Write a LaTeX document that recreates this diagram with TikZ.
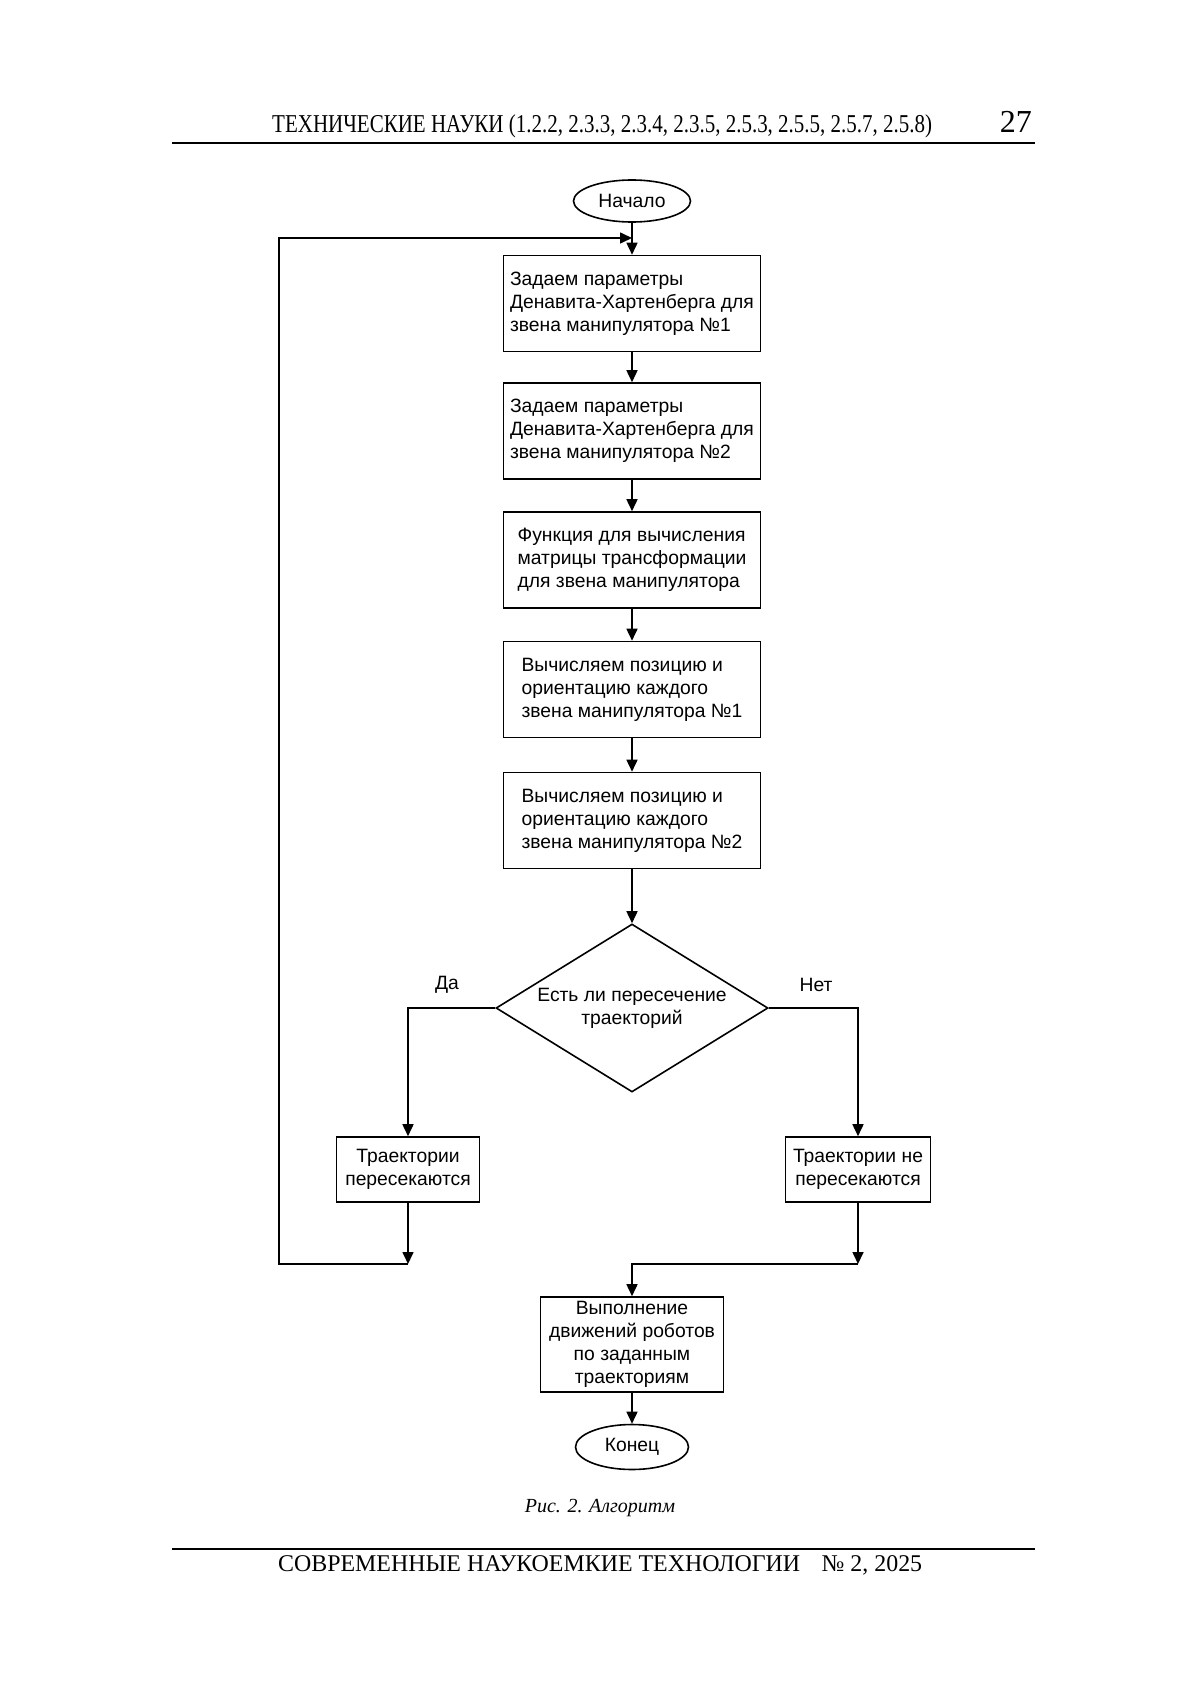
\documentclass[tikz,border=0pt]{standalone}
\usepackage{fontspec}
\usepackage{graphicx}
\setmainfont{Liberation Serif}
\setsansfont{Liberation Sans}
\usetikzlibrary{shapes.geometric,arrows.meta}
\begin{document}
\begin{tikzpicture}[x=1pt,y=-1pt,
  every node/.style={font=\sffamily\fontsize{19.3}{23}\selectfont, inner sep=0pt},
  lw/.style={line width=1.6pt},
  proc/.style={draw, lw, minimum width=257pt, minimum height=96pt, align=left},
  small/.style={draw, lw, minimum height=65pt, align=center},
  term/.style={draw, lw, ellipse},
  decis/.style={draw, lw, diamond, aspect=1.62, minimum width=272pt, minimum height=168pt, align=center},
  conn/.style={lw, -{Triangle[length=12pt,width=11pt]}},
  serifhead/.style={font=\rmfamily\fontsize{25.7}{30}\selectfont}]
\useasboundingbox (0,0) rectangle (1200,1697);
\fill[white] (0,0) rectangle (1200,1697);

% header
\node[serifhead, anchor=base west] (hdr) at (272,132)
  {\resizebox{660pt}{\height}{ТЕХНИЧЕСКИЕ НАУКИ (1.2.2, 2.3.3, 2.3.4, 2.3.5, 2.5.3, 2.5.5, 2.5.7, 2.5.8)}};
\node[font=\rmfamily\fontsize{32}{36}\selectfont, anchor=base east] (pg) at (1032,132) {27};
\draw[line width=2.7pt] (172,143) -- (1035,143);

% flowchart nodes
\node[term, minimum width=117pt, minimum height=42pt] (start) at (632,201) {Начало};
\node[proc] (b1) at (632,303.5) {Задаем параметры\\Денавита-Хартенберга для\\звена манипулятора №1};
\node[proc] (b2) at (632,431) {Задаем параметры\\Денавита-Хартенберга для\\звена манипулятора №2};
\node[proc] (b3) at (632,560) {Функция для вычисления\\матрицы трансформации\\для звена манипулятора};
\node[proc] (b4) at (632,689.5) {Вычисляем позицию и\\ориентацию каждого\\звена манипулятора №1};
\node[proc] (b5) at (632,820.5) {Вычисляем позицию и\\ориентацию каждого\\звена манипулятора №2};
\node[decis] (d) at (632,1008) {Есть ли пересечение\\траекторий};
\node[small, minimum width=143pt] (yes) at (408,1169.5) {Траектории\\пересекаются};
\node[small, minimum width=145pt] (no) at (858,1169.5) {Траектории не\\пересекаются};
\node[draw, lw, minimum width=183pt, minimum height=95pt, align=center] (fin) at (632,1344.5)
  {Выполнение\\движений роботов\\по заданным\\траекториям};
\node[term, minimum width=113pt, minimum height=45pt] (end) at (632,1447) {Конец};

\node (da) at (447,985) {Да};
\node (net) at (816,985) {Нет};

% junction coordinates
\coordinate (lj) at (408,1264);
\coordinate (rj) at (858,1264);
\coordinate (lc) at (279,1264);
\coordinate (lt) at (279,238);
\coordinate (tj) at (632,238);

% connectors
\draw[conn] (start) -- (b1);
\draw[conn] (b1) -- (b2);
\draw[conn] (b2) -- (b3);
\draw[conn] (b3) -- (b4);
\draw[conn] (b4) -- (b5);
\draw[conn] (b5) -- (d);
\draw[conn] (d.west) -| (yes.north);
\draw[conn] (d.east) -| (no.north);
\draw[conn] (yes) -- (lj);
\draw[conn] (lj) -- (lc) -- (lt) -- (tj);
\draw[conn] (no) -- (rj);
\draw[conn] (rj) -| (fin.north);
\draw[conn] (fin) -- (end);

% caption
\node[font=\rmfamily\itshape\fontsize{20}{24}\selectfont] (cap) at (600,1508) {Рис. 2. Алгоритм};

% footer
\draw[line width=2.2pt] (172,1549) -- (1035,1549);
\node[font=\rmfamily\fontsize{24}{28}\selectfont, anchor=base west] (ftr) at (278,1571)
  {\resizebox{644pt}{\height}{СОВРЕМЕННЫЕ НАУКОЕМКИЕ ТЕХНОЛОГИИ\hspace{0.9em}№ 2, 2025}};
\end{tikzpicture}
\end{document}
